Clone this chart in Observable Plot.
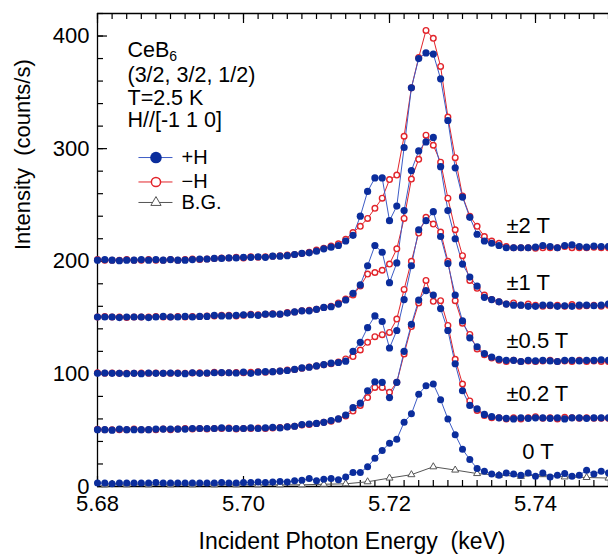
<!DOCTYPE html>
<html>
<head>
<meta charset="utf-8">
<script src="https://cdn.jsdelivr.net/npm/d3@7"></script>
<script src="https://cdn.jsdelivr.net/npm/@observablehq/plot@0.6"></script>
<style>
  html, body { margin: 0; padding: 0; background: #fff; }
  #chart { width: 608px; height: 556px; }
</style>
</head>
<body>
<div id="chart"></div>
<script>
// ---------- data ----------
const energy = [5.680,5.681,5.682,5.683,5.684,5.685,5.686,5.687,5.688,5.689,
  5.690,5.691,5.692,5.693,5.694,5.695,5.696,5.697,5.698,5.699,
  5.700,5.701,5.702,5.703,5.704,5.705,5.706,5.707,5.708,5.709,
  5.710,5.711,5.712,5.713,5.714,5.715,5.716,5.717,5.718,5.719,
  5.720,5.721,5.722,5.723,5.724,5.725,5.726,5.727,5.728,5.729,
  5.730,5.731,5.732,5.733,5.734,5.735,5.736,5.737,5.738,5.739,
  5.740,5.741,5.742,5.743,5.744,5.745,5.746,5.747,5.748,5.749,5.750];

const plus2T = [201,201.5,201,200.5,201,201,201.5,201,201.5,201,
  201.5,201,201,201.5,202,202,202.5,202.5,203,203,
  203.5,203.5,204,203.5,204.5,204.5,205,206,207,207.5,
  209,211,212.5,214,218,223,240,262,274,274,
  236,249,301,354,380,385,384,362,325,283,
  257,239,224,218,216,214,212,212,212,212,
  212.5,214,213,212,214,214.5,213,212.5,213.5,213,213];
const minus2T = [201.5,201,201,201,201.5,201,201,201.5,201,201,
  201.5,201,201.5,202,201.5,202,202.5,203,203,203.5,
  203,204,203.5,204,204.5,205,205.5,206,207,208,
  210,211.5,213.5,215.5,219.5,225.5,231,238,247,256,
  272.5,276.5,311,354,381,405,398,373,328,292,
  258,240,231,222,218,216,213,212,212,212,
  211.5,212,212,212,213,212,212,212,212.5,212,212];
const plus1T = [150.5,150.5,150.5,150,150.5,150.5,150.5,150,150.5,151,
  150.5,150.5,151,150.5,151,151,152,151.5,151.5,152,
  152.5,152.5,152,153,153,153,154,155,156,156,
  157.3,159,159.6,162,165.6,171.5,179,196,214,208,
  181,198.5,245,280.5,298,306,310,284,245,220,
  197.5,186,178,168,166,164,162,161,161,160,
  160,161,161,160,160.5,160,161,161,160.5,161,162];
const minus1T = [150.5,151,150.5,150.5,150,150.5,150.5,150.5,151,150.5,
  150.5,151,150.5,151,151,151.5,151.5,152,152,151.5,
  152,153,152.5,153,153.5,153,154.5,155,156,156.5,
  157.5,159,160,163,166.5,170,178,188.6,190,192,
  197.5,211,238,273,290.5,312,303,288,256,228,
  205,183,176,170,166,164,162,163,161,162,
  161,160,160.5,161,160,161.5,160,160.5,161,160,161];
const plus05T = [100.5,100.8,100.5,100.5,100.2,100.5,100.2,100.8,100.5,100.5,
  100.8,100.5,100.2,101,100.5,100.8,101,101.2,101,100.8,
  101.5,100.5,101.5,102,102,102.5,103,104,105.3,105.9,
  107.1,108.3,109.5,110.1,111.3,120,128,141,151.5,146.5,
  123,138.5,166,196,228,236,244,222,198,170,
  147,132,124,118,115,113,112,112,111,112,
  111.5,112,111.5,111,112,112,111.5,112,112,112.5,112];
const minus05T = [101,100.5,100.8,100.5,100.5,100.5,100.8,100.5,100.8,100.5,
  100.5,100.8,100.5,100.8,101,100.5,101.5,101,101,101.2,
  101,101.5,102,101.5,102,102.5,103.5,104,105,106,
  107,108,109,110.5,113.3,115.4,121.2,128,133,134.8,
  136.8,148.7,175,200,225,239,233,226,200,165,
  145,135,122,117,114,112,111,112,111,111.5,
  111,111.5,112,111,111.5,111,112,111,111.5,111,111];
const plus02T = [50.5,50.5,50,51,50.5,50.5,50.5,50.5,51,51,
  51,51,51,51.5,51.5,51.5,51.5,52,51.5,51.5,
  51.5,52,51.5,52,52.5,52,53,53.5,55,55.5,
  56,57,58.5,60,63.5,70,74,85,93,92.5,
  79,92.5,120,144,165.5,174,170,158,138.5,109,
  85,72,69,64,62,61,60.5,60,61,60.5,
  61,61,60.5,61,60,61,61,60.5,61,61,61];
const minus02T = [50.8,50.5,50.5,50.5,50.5,51,50.5,50.5,50.5,51,
  50.5,51,51.5,51,51.5,51,51.5,51.5,52,51,
  51.5,51.5,52,51.5,52,52.5,53,53.5,54.5,55,
  56,57,58,60,62.5,67,72,79,88,88,
  83.6,92.5,117.7,142,163,183,164.4,165,143,113,
  91,76,67.5,63,61,61,60,61,60,61,
  62,60.5,61,60,61.5,61,60.5,61,60.5,60.5,60.5];
const zeroT = [3,3,2.5,3,3,3,3,3,3.5,3,
  3,3,3,3,3,3,3,3.5,3,3,
  3.5,3.5,4,3.5,4,4.5,4,5,5.5,7,
  5,6.5,7,6,8.5,12.5,12.5,17.5,25,32,
  38.5,42,57,64.5,82,89.5,91,77,60,46,
  33,24,16,13.5,11,10,12,11,10,12,
  9,12,8.5,10,11.5,9,10,14.5,11,13.5,12];

const bgEnergy = [5.681,5.684,5.687,5.690,5.693,5.696,5.699,5.702,5.705,5.708,
  5.711,5.714,5.717,5.720,5.723,5.726,5.729,5.732,5.735,5.738,5.741,5.744,5.747,5.750];
const bgValues = [1.5,1.5,1.5,1.5,1.5,1.5,1.5,1.5,1.5,1.5,
  2,2.4,4.2,7.5,10.5,17.5,14.6,11.5,10,9,10.5,8.5,8,7.5];

const fieldLabels = ["±2 T", "±1 T", "±0.5 T", "±0.2 T", "0 T"];
const infoLines = ["CeB6", "(3/2, 3/2, 1/2)", "T=2.5 K", "H//[-1 1 0]"];
const legendLabels = ["+H", "\u2212H", "B.G."];
const xMajor = [5.68, 5.70, 5.72, 5.74];
const xMinor = d3.range(0, 36).map(k => 5.68 + k * 0.002);
const yMajor = [0, 100, 200, 300, 400];
const yMinor = d3.range(0, 22).map(k => k * 20);

// ---------- build ----------
const W = 608, H = 556, mL = 97, mR = 0, mT = 13, mB = 70;
const xDom = [5.68, 5.75], yDom = [0, 420];
const innerW = W - mL - mR, innerH = H - mT - mB;
const pxX = innerW / (xDom[1] - xDom[0]);   // px per keV
const pxY = innerH / (yDom[1] - yDom[0]);   // px per count/s
const blue = "#0b2d9c", blueLine = "#3d5cc6", red = "#e2242b", grey = "#555";

const toRows = vals => energy.map((e, i) => ({e, v: vals[i]}));
const pairs = [[plus2T, minus2T], [plus1T, minus1T], [plus05T, minus05T], [plus02T, minus02T]];
const bgRows = bgEnergy.map((e, i) => ({e, v: bgValues[i]}));

const dataMarks = [];
dataMarks.push(Plot.line(bgRows, {x: "e", y: "v", stroke: grey, strokeWidth: 1}));
dataMarks.push(Plot.dot(bgRows, {x: "e", y: "v", symbol: "triangle", r: 2.6, stroke: grey, fill: "white", strokeWidth: 1}));
dataMarks.push(Plot.line(toRows(zeroT), {x: "e", y: "v", stroke: blueLine, strokeWidth: 1}));
dataMarks.push(Plot.dot(toRows(zeroT), {x: "e", y: "v", r: 3.5, fill: blue}));
for (const [p, m] of pairs.slice().reverse()) {
  dataMarks.push(Plot.line(toRows(m), {x: "e", y: "v", stroke: red, strokeWidth: 1}));
  dataMarks.push(Plot.line(toRows(p), {x: "e", y: "v", stroke: blueLine, strokeWidth: 1}));
  dataMarks.push(Plot.dot(toRows(m), {x: "e", y: "v", r: 2.8, stroke: red, fill: "white", strokeWidth: 1.4}));
  dataMarks.push(Plot.dot(toRows(p), {x: "e", y: "v", r: 3.6, fill: blue}));
}

// inward ticks drawn as short rules through the scales
const tickMarks = [
  Plot.ruleY(yMajor, {y: d => d, x1: xDom[0], x2: xDom[0] + 10 / pxX, stroke: "#000", strokeWidth: 1.2}),
  Plot.ruleY(yMinor, {y: d => d, x1: xDom[0], x2: xDom[0] + 6 / pxX, stroke: "#000", strokeWidth: 1.2}),
  Plot.ruleX(xMajor, {x: d => d, y1: yDom[0], y2: yDom[0] + 10 / pxY, stroke: "#000", strokeWidth: 1.2}),
  Plot.ruleX(xMinor, {x: d => d, y1: yDom[0], y2: yDom[0] + 6 / pxY, stroke: "#000", strokeWidth: 1.2}),
  Plot.ruleX(xMajor, {x: d => d, y1: yDom[1], y2: yDom[1] - 10 / pxY, stroke: "#000", strokeWidth: 1.2}),
  Plot.ruleX(xMinor, {x: d => d, y1: yDom[1], y2: yDom[1] - 6 / pxY, stroke: "#000", strokeWidth: 1.2})
];

const fieldPos = [[409, 212], [409, 269.5], [409, 327.5], [409, 380.8], [424.7, 438.7]];
const infoDy = [37, 62, 84.5, 107];
const legY = [292.1, 270.4, 252.2];
const legX0 = 5.68568, legX1 = 5.69034, legXm = 5.68801, legXt = 5.69151;

const chart = Plot.plot({
  width: W, height: H,
  marginLeft: mL, marginRight: mR, marginTop: mT, marginBottom: mB,
  style: {fontFamily: "'Liberation Sans', Arial, Helvetica, sans-serif", fontSize: "22px", background: "white", color: "black"},
  x: {domain: xDom},
  y: {domain: yDom},
  marks: [
    // frame (left, top, bottom)
    Plot.ruleX([xDom[0]], {stroke: "black", strokeWidth: 1.3}),
    Plot.ruleY(yDom, {stroke: "black", strokeWidth: 1.3}),
    ...tickMarks,
    Plot.axisX({ticks: xMajor, tickSize: 0, tickPadding: 9, tickFormat: d3.format(".2f"), fontSize: 22, label: null}),
    Plot.axisY({ticks: yMajor, tickSize: 0, tickPadding: 8, fontSize: 22, label: null}),
    Plot.text(["Incident Photon Energy  (keV)"], {frameAnchor: "bottom", dy: 55, dx: -1, lineAnchor: "middle", fontSize: 23}),
    Plot.text(["Intensity  (counts/s)"], {frameAnchor: "left", dx: -75, rotate: -90, lineAnchor: "middle", fontSize: 22}),
    ...dataMarks,
    // info block
    ...infoLines.map((t, i) => Plot.text([t], {frameAnchor: "top-left", dx: 30, dy: infoDy[i], textAnchor: "start", lineAnchor: "middle", fontSize: 21.5})),
    // legend
    ...legY.map((y, i) => Plot.ruleY([y], {x1: legX0, x2: legX1, stroke: [blueLine, red, grey][i], strokeWidth: 1})),
    Plot.dot([0], {x: legXm, y: legY[0], r: 5.8, fill: blue}),
    Plot.dot([0], {x: legXm, y: legY[1], r: 4.6, stroke: red, fill: "white", strokeWidth: 1.5}),
    Plot.dot([0], {x: legXm, y: legY[2], r: 3.8, symbol: "triangle", stroke: grey, fill: "white", strokeWidth: 1}),
    ...legendLabels.map((t, i) => Plot.text([t], {x: legXt, y: legY[i], textAnchor: "start", lineAnchor: "middle", fontSize: 20})),
    // field labels
    ...fieldLabels.map((t, i) => Plot.text([t], {frameAnchor: "top-left", dx: fieldPos[i][0], dy: fieldPos[i][1], textAnchor: "start", lineAnchor: "middle", fontSize: 22}))
  ]
});

// subscript for CeB6
d3.select(chart).selectAll("text").each(function () {
  if (this.textContent === "CeB6") {
    const el = d3.select(this);
    el.text("CeB");
    el.append("tspan").attr("dy", 4).attr("font-size", 14).text("6");
  }
});

document.getElementById("chart").appendChild(chart);
</script>
</body>
</html>
